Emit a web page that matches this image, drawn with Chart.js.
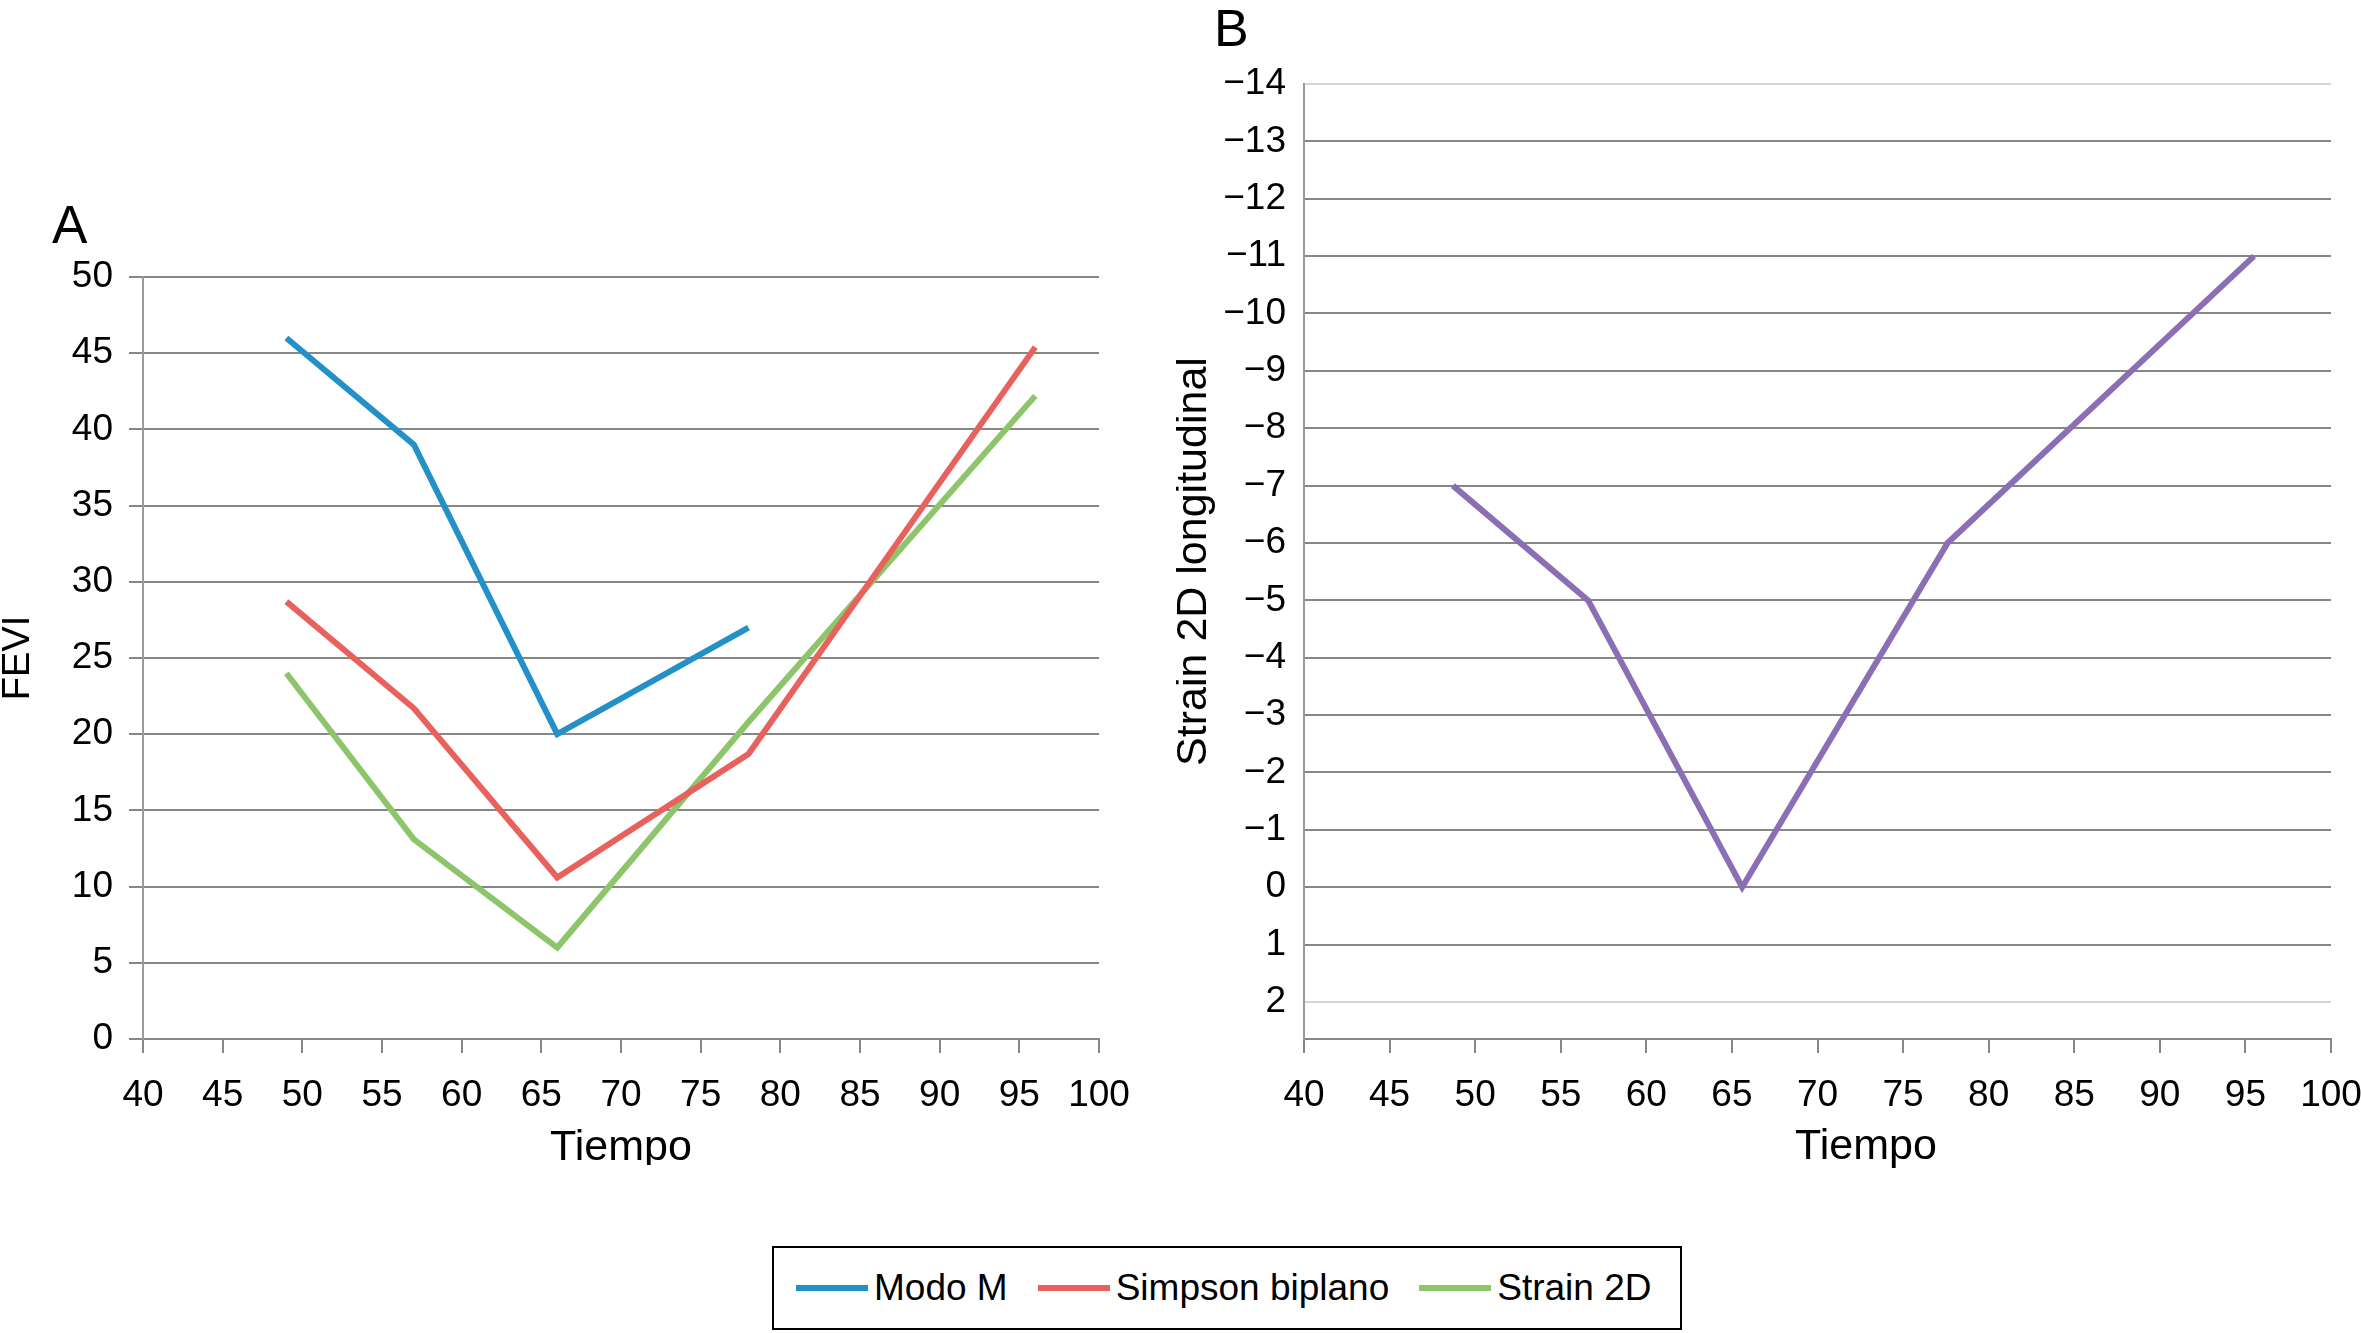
<!DOCTYPE html>
<html>
<head>
<meta charset="utf-8">
<script src="https://cdn.jsdelivr.net/npm/chart.js@4.4.1/dist/chart.umd.min.js"></script>
<style>
  html, body { margin: 0; padding: 0; background: #fff; }
  body { width: 2361px; height: 1333px; position: relative; overflow: hidden;
         font-family: 'Liberation Sans', Arial, sans-serif; }
  canvas { position: absolute; top: 0; }
  #chartA { left: 0; }
  #chartB { left: 1176px; }
  .panel { position: absolute; font-size: 53px; line-height: 1; color: #000; }
  #titleB { position: absolute; left: 1866px; top: 1123px; transform: translateX(-50%);
            font-size: 43px; line-height: 1; color: #000; white-space: nowrap; }
  #legend { position: absolute; left: 772px; top: 1246px; width: 910px; height: 84px;
            border: 2px solid #000; display: flex; align-items: center;
            padding-left: 22px; box-sizing: border-box; }
  .item { display: flex; align-items: center; font-size: 37px; color: #000;
          margin-right: 30px; white-space: nowrap; flex-shrink: 0; }
  .item:last-child { margin-right: 0; }
  .swatch { width: 72px; height: 6px; margin-right: 6px; flex-shrink: 0; }
</style>
</head>
<body>
<div class="panel" style="left:52px; top:198px;">A</div>
<div class="panel" style="left:1214px; top:2px; font-size:52px;">B</div>
<canvas id="chartA" width="1176" height="1165"></canvas>
<canvas id="chartB" width="1185" height="1165"></canvas>
<div id="titleB">Tiempo</div>
<div id="legend"></div>
<script>
// tick labels
const timeTicks = [40, 45, 50, 55, 60, 65, 70, 75, 80, 85, 90, 95, 100];
const fevyTicks = [0, 5, 10, 15, 20, 25, 30, 35, 40, 45, 50];
const strainTicks = [-14, -13, -12, -11, -10, -9, -8, -7, -6, -5, -4, -3, -2, -1, 0, 1, 2];

// panel A series
const seriesNames = ['Modo M', 'Simpson biplano', 'Strain 2D'];
const modoTime = [49, 57, 66, 78];
const modoValues = [46, 39, 20, 27];
const simpsonTime = [49, 57, 66, 78, 96];
const simpsonValues = [28.7, 21.7, 10.6, 18.7, 45.4];
const strainTime = [49, 57, 66, 78, 96];
const strainValues = [24, 13.1, 6, 20.8, 42.2];

// panel B series
const longTime = [48.7, 56.6, 65.6, 77.6, 95.5];
const longValues = [-7, -5, 0, -6, -11];

const colors = ['#2391c8', '#e8615c', '#8dc56a'];
const purple = '#8a6fb5';
const gridGray = '#878787';
const fontFamily = "'Liberation Sans', Arial, sans-serif";

Chart.defaults.font.family = fontFamily;
Chart.defaults.color = '#000';

const toPoints = (xs, ys) => xs.map((x, i) => ({ x: x, y: ys[i] }));
const setTicks = arr => scale => { scale.ticks = arr.map(v => ({ value: v })); };

function lineSet(label, xs, ys, color) {
  return {
    label: label,
    data: toPoints(xs, ys),
    borderColor: color,
    backgroundColor: color,
    borderWidth: 6,
    pointRadius: 0,
    tension: 0,
    fill: false
  };
}

function timeAxis(rightPad, showTitle) {
  return {
    type: 'linear',
    min: 40,
    max: 100,
    afterBuildTicks: setTicks(timeTicks),
    afterFit: s => {
      s.height = 126;
      if (rightPad !== undefined) s.paddingRight = rightPad;
    },
    grid: { drawOnChartArea: false, drawTicks: true, tickLength: 14, color: gridGray, lineWidth: 2 },
    border: { color: gridGray, width: 2 },
    ticks: { font: { size: 37 }, padding: 21, maxRotation: 0, autoSkip: false, color: '#000' },
    title: { display: showTitle, text: 'Tiempo', font: { size: 43, lineHeight: 0.8 }, padding: 0, color: '#000' }
  };
}

const baseOpts = {
  responsive: false,
  animation: false,
  devicePixelRatio: 1,
  plugins: { legend: { display: false }, tooltip: { enabled: false } }
};

new Chart(document.getElementById('chartA'), {
  type: 'line',
  data: {
    datasets: [
      lineSet(seriesNames[0], modoTime, modoValues, colors[0]),
      lineSet(seriesNames[1], simpsonTime, simpsonValues, colors[1]),
      lineSet(seriesNames[2], strainTime, strainValues, colors[2])
    ]
  },
  options: Object.assign({}, baseOpts, {
    layout: { padding: { left: 0, top: 277, right: 77, bottom: 0 } },
    scales: {
      x: timeAxis(undefined, true),
      y: {
        min: 0,
        max: 50,
        afterBuildTicks: setTicks(fevyTicks),
        afterFit: s => { s.width = 143; },
        grid: { color: gridGray, lineWidth: 2, drawTicks: true, tickLength: 14 },
        border: { color: '#9a9a9a', width: 2 },
        ticks: { font: { size: 37 }, padding: 16, color: '#000' },
        title: { display: true, text: 'FEVI', font: { size: 38, lineHeight: 1 }, padding: 0, color: '#000' }
      }
    }
  })
});

new Chart(document.getElementById('chartB'), {
  type: 'line',
  data: {
    datasets: [lineSet('Strain 2D longitudinal', longTime, longValues, purple)]
  },
  options: Object.assign({}, baseOpts, {
    layout: { padding: { left: 0, top: 84, right: 30, bottom: 0 } },
    scales: {
      x: timeAxis(0, false),
      y: {
        reverse: true,
        min: -14,
        max: 2.645,
        afterBuildTicks: setTicks(strainTicks),
        afterFit: s => { s.width = 128; },
        grid: {
          color: c => (c.tick && (c.tick.value === -14 || c.tick.value === 2)) ? '#d4d4d4' : gridGray,
          lineWidth: 2,
          drawTicks: false
        },
        border: { color: '#9a9a9a', width: 2 },
        ticks: {
          font: { size: 37 },
          padding: 18,
          color: '#000',
          callback: v => (v < 0 ? '\u2212' + Math.abs(v) : String(v))
        },
        title: { display: true, text: 'Strain 2D longitudinal', font: { size: 43, lineHeight: 0.85 }, padding: 0, color: '#000' }
      }
    }
  })
});

// legend built from the series
const legend = document.getElementById('legend');
seriesNames.forEach((name, i) => {
  const item = document.createElement('div');
  item.className = 'item';
  const sw = document.createElement('span');
  sw.className = 'swatch';
  sw.style.background = colors[i];
  const tx = document.createElement('span');
  tx.textContent = name;
  item.appendChild(sw);
  item.appendChild(tx);
  legend.appendChild(item);
});
</script>
</body>
</html>
